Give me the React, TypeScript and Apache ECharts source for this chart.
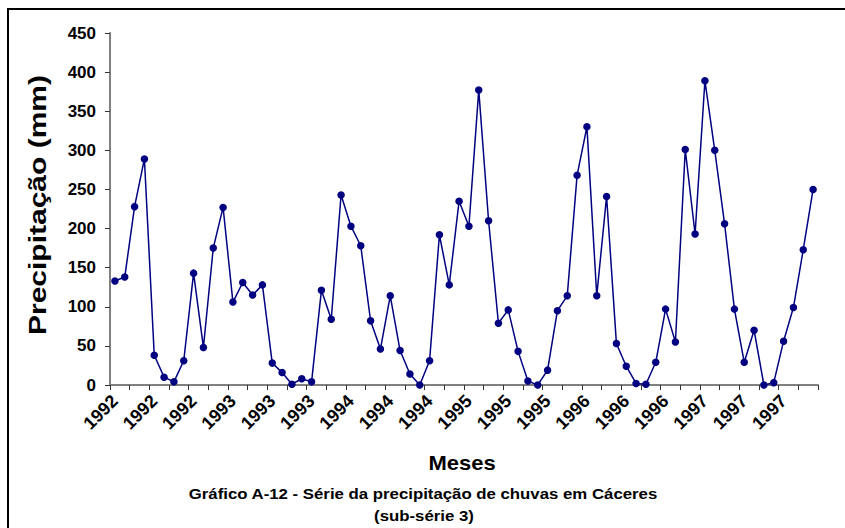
import React, { useEffect, useRef } from "react";
import * as echarts from "echarts";

const years = [1992, 1993, 1994, 1995, 1996, 1997];
const months = years.flatMap((y) =>
  ["01", "02", "03", "04", "05", "06", "07", "08", "09", "10", "11", "12"].map((m) => `${m}/${y}`)
);

const precipitation = [
  133, 138, 228, 289, 38, 10, 4, 31, 143, 48, 175, 227,
  106, 131, 115, 128, 28, 16, 1, 8, 4, 121, 84, 243,
  203, 178, 82, 46, 114, 44, 14, 0, 31, 192, 128, 235,
  203, 377, 210, 79, 96, 43, 5, 0, 19, 95, 114, 268,
  330, 114, 241, 53, 24, 2, 1, 29, 97, 55, 301, 193,
  389, 300, 206, 97, 29, 70, 0, 3, 56, 99, 173, 250,
];

const yTitle = "Precipitação (mm)";
const xTitle = "Meses";
const caption1 = "Gráfico A-12 - Série da precipitação de chuvas em Cáceres";
const caption2 = "(sub-série 3)";

const FONT = "'Liberation Sans', Arial, sans-serif";

export default function App() {
  const ref = useRef<HTMLDivElement>(null);
  useEffect(() => {
    if (!ref.current) return;
    const chart = echarts.init(ref.current, undefined, { renderer: "svg" });
    chart.setOption({
      animation: false,
      backgroundColor: "#ffffff",
      grid: {
        left: 110,
        right: 27,
        top: 33,
        bottom: 143,
        containLabel: false,
        outerBoundsMode: "none",
      },
      xAxis: {
        type: "category",
        data: months,
        boundaryGap: true,
        axisLine: { show: true, lineStyle: { color: "#808080", width: 2 } },
        axisTick: { show: true, interval: 1, length: 5, lineStyle: { color: "#333", width: 1 } },
        axisLabel: {
          interval: 3,
          rotate: 45,
          margin: 13,
          fontFamily: FONT,
          fontWeight: "bold",
          fontSize: 18,
          color: "#000",
          formatter: (v: string) => v.split("/")[1],
        },
        splitLine: { show: false },
      },
      yAxis: {
        type: "value",
        min: 0,
        max: 450,
        interval: 50,
        axisLine: { show: true, lineStyle: { color: "#808080", width: 2 } },
        axisTick: { show: true, length: 5, lineStyle: { color: "#333", width: 1 } },
        axisLabel: {
          margin: 14,
          fontFamily: FONT,
          fontWeight: "bold",
          fontSize: 17,
          color: "#000",
        },
        splitLine: { show: false },
      },
      series: [
        {
          type: "line",
          data: precipitation,
          symbol: "circle",
          symbolSize: 7.5,
          showAllSymbol: true,
          itemStyle: { color: "#000080" },
          lineStyle: { color: "#000080", width: 1.5 },
        },
      ],
      graphic: [
        {
          type: "rect",
          shape: { x: 8, y: 9, width: 900, height: 600 },
          style: { fill: "none", stroke: "#000", lineWidth: 2 },
          silent: true,
        },
        {
          type: "text",
          x: 38,
          y: 205,
          rotation: Math.PI / 2,
          scaleX: 1.25,
          style: {
            text: yTitle,
            font: `bold 24px ${FONT}`,
            fill: "#000",
            textAlign: "center",
            textVerticalAlign: "middle",
          },
        },
        {
          type: "text",
          x: 462,
          y: 463,
          scaleX: 1.1,
          style: {
            text: xTitle,
            font: `bold 20px ${FONT}`,
            fill: "#000",
            textAlign: "center",
            textVerticalAlign: "middle",
          },
        },
        {
          type: "text",
          x: 423,
          y: 494,
          scaleX: 1.12,
          style: {
            text: caption1,
            font: `bold 15px ${FONT}`,
            fill: "#000",
            textAlign: "center",
            textVerticalAlign: "middle",
          },
        },
        {
          type: "text",
          x: 424,
          y: 516,
          scaleX: 1.12,
          style: {
            text: caption2,
            font: `bold 15px ${FONT}`,
            fill: "#000",
            textAlign: "center",
            textVerticalAlign: "middle",
          },
        },
      ],
    });
    return () => chart.dispose();
  }, []);
  return <div ref={ref} style={{ position: "fixed", left: 0, top: 0, width: 845, height: 528 }} />;
}
